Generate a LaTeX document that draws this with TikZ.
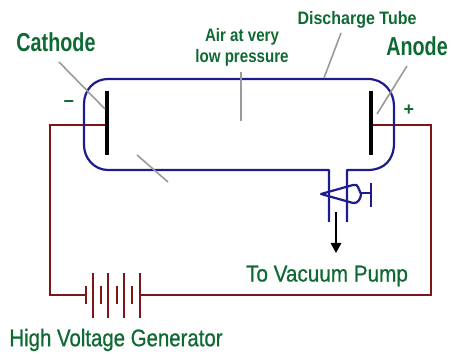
\documentclass[tikz,border=0pt]{standalone}
\usepackage{fontspec}
\setmainfont{Liberation Sans}
\newfontfamily\semibold[FakeBold=0.8]{Liberation Sans}
\definecolor{tubeblue}{HTML}{1C1C8E}
\definecolor{wirered}{HTML}{7E1518}
\definecolor{labelgreen}{HTML}{0E6A32}
\definecolor{leadgray}{HTML}{9A9A9A}
\tikzset{
  x=1pt,y=-1pt,
  tube/.style={draw=tubeblue,line width=2.2pt,line join=round},
  wire/.style={draw=wirered,line width=2pt,line join=miter},
  electrode/.style={draw=black,line width=4.6pt},
  leader/.style={draw=leadgray,line width=1.6pt},
  lbl/.style={text=labelgreen,inner sep=0pt,align=center},
}
\begin{document}
\begin{tikzpicture}
\useasboundingbox (0,0) rectangle (451,355);
% labels
\node[lbl] (cath) at (56,42) {\scalebox{0.76}[1]{\fontsize{26}{26}\selectfont\bfseries Cathode}};
\node[lbl] (anode) at (417,46) {\scalebox{0.76}[1]{\fontsize{26}{26}\selectfont\bfseries Anode}};
\node[lbl] (disch) at (357,20) {\scalebox{0.89}[1]{\fontsize{18}{18}\selectfont\bfseries Discharge Tube}};
\node[lbl] (air) at (242,48) {\scalebox{0.84}[1]{\fontsize{18}{18}\selectfont\bfseries\begin{tabular}{@{}c@{}}Air at very\\[2pt]low pressure\end{tabular}}};
\node[lbl] (pump) at (327,276) {\scalebox{0.9}[1]{\fontsize{23}{23}\selectfont\semibold To Vacuum Pump}};
\node[lbl] (hv) at (116,340) {\scalebox{0.85}[1]{\fontsize{24}{24}\selectfont\semibold High Voltage Generator}};
\node[lbl] (minus) at (69,104) {\fontsize{18}{18}\selectfont\bfseries −};
\node[lbl] (plus) at (409,110) {\fontsize{18}{18}\selectfont\bfseries +};
% coordinates
\coordinate (cT) at (107,91);  \coordinate (cB) at (107,155); \coordinate (cM) at (107,125);
\coordinate (aT) at (371,91);  \coordinate (aB) at (371,155); \coordinate (aM) at (371,125);
\coordinate (wL) at (50,125);  \coordinate (wLB) at (50,295);
\coordinate (wR) at (431,125); \coordinate (wRB) at (431,295);
\coordinate (b1) at (86,295);  \coordinate (b8) at (140,295);
% wires
\draw[wire] (cM) -- (wL) -- (wLB) -- (b1);
\draw[wire] (aM) -- (wR) -- (wRB) -- (b8);
% battery
\foreach \n/\px in {1/93,2/108,3/124,4/140}
  \draw[wire] (\px,273) coordinate (long\n) -- (\px,318);
\foreach \n/\px in {1/86,2/101,3/117,4/132}
  \draw[wire] (\px,286) coordinate (short\n) -- (\px,304);
% tube
\draw[tube] (329,222) -- (329,170) -- (108,170)
  .. controls (94,170) and (84,158) .. (84,145) -- (84,104)
  .. controls (84,90) and (94,79) .. (108,79) -- (368,79)
  .. controls (384,79) and (394,92) .. (394,106) -- (394,143)
  .. controls (394,160) and (384,170) .. (368,170) -- (347,170) -- (347,222);
% valve
\coordinate (vTip) at (321,194);
\draw[tube] (vTip) -- (353,185) .. controls (356,184) and (357,185) .. (358,187)
  -- (361,194) .. controls (361,198) and (358,204) .. (353,203) -- cycle;
\coordinate (vH) at (361,193); \coordinate (vE) at (371,193);
\draw[tube] (vH) -- (vE);
\draw[tube] (371,183) -- (371,207);
% electrodes
\draw[electrode] (cT) -- (cB);
\draw[electrode] (aT) -- (aB);
% arrow
\coordinate (arS) at (336,212); \coordinate (arE) at (336,253);
\draw[draw=black,line width=2.2pt] (arS) -- (336,244);
\fill[black] (arE) -- (330.5,243) -- (341.5,243) -- cycle;
% leaders
\draw[leader] (59,62) -- (105,109);
\draw[leader] (137,155) -- (168,182);
\draw[leader] (241,72) -- (241,121);
\draw[leader] (341,33) -- (324,78);
\draw[leader] (407,66) -- (377,114);
\end{tikzpicture}
\end{document}
